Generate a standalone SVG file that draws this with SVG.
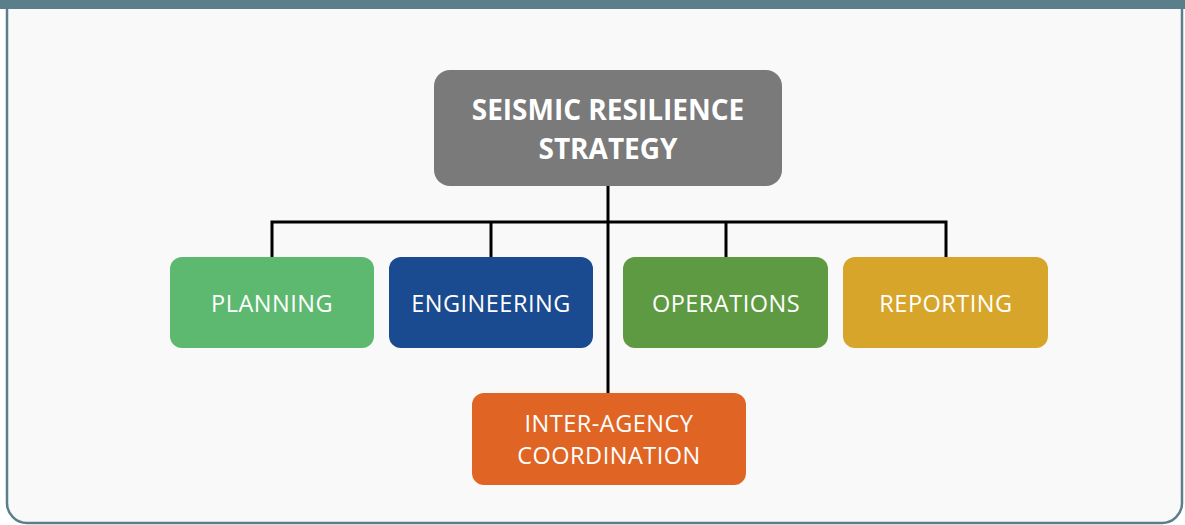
<svg xmlns="http://www.w3.org/2000/svg" width="1185" height="525" viewBox="0 0 1185 525">
<style>
.node{stroke:none}
.lbl{font-family:"Open Sans","Liberation Sans",sans-serif;fill:#ffffff;text-anchor:middle}
.t{font-size:23.5px;letter-spacing:0.5px}
.rt{font-size:28px;font-weight:bold}
.conn{stroke:#000000;stroke-width:3;fill:none}
</style>
<rect x="0" y="0" width="1185" height="525" fill="#ffffff"/>
<path d="M7,0 H1182 V503 A20,20 0 0 1 1162,523 H27 A20,20 0 0 1 7,503 Z" fill="#f8f9f8" stroke="#5a7f8a" stroke-width="2.5"/>
<rect x="0" y="0" width="1185" height="9" fill="#5a7f8a"/>
<g id="connectors">
<path class="conn" d="M608,186 V393"/>
<path class="conn" d="M272,257 V222 H946 V257"/>
<path class="conn" d="M491,222 V257"/>
<path class="conn" d="M726,222 V257"/>
</g>
<g id="root">
<rect class="node" x="434" y="70" width="348" height="116" rx="16" fill="#7a7a7a"/>
<text class="lbl rt" x="608" y="120">SEISMIC RESILIENCE</text>
<text class="lbl rt" x="608" y="159">STRATEGY</text>
</g>
<g id="planning">
<rect class="node" x="170" y="257" width="204" height="91" rx="12" fill="#5db870"/>
<text class="lbl t" x="272" y="312">PLANNING</text>
</g>
<g id="engineering">
<rect class="node" x="389" y="257" width="204" height="91" rx="12" fill="#1a4a8f"/>
<text class="lbl t" x="491" y="312">ENGINEERING</text>
</g>
<g id="operations">
<rect class="node" x="623" y="257" width="205" height="91" rx="12" fill="#5e9a41"/>
<text class="lbl t" x="726" y="312">OPERATIONS</text>
</g>
<g id="reporting">
<rect class="node" x="843" y="257" width="205" height="91" rx="12" fill="#d6a52a"/>
<text class="lbl t" x="946" y="312">REPORTING</text>
</g>
<g id="interagency">
<rect class="node" x="472" y="393" width="274" height="92" rx="12" fill="#e06524"/>
<text class="lbl t" x="609" y="432">INTER-AGENCY</text>
<text class="lbl t" x="609" y="464">COORDINATION</text>
</g>
</svg>
